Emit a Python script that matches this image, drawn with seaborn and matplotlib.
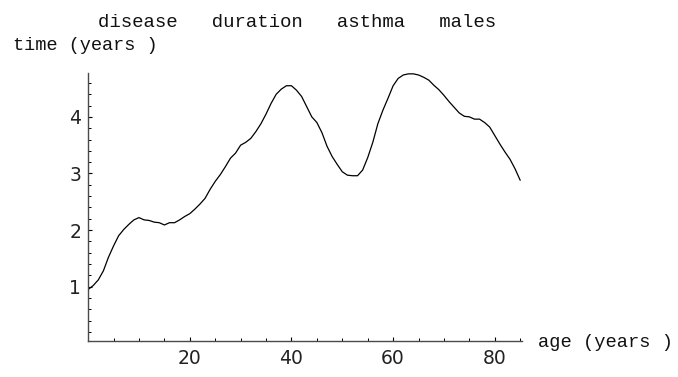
import matplotlib
matplotlib.use("Agg")
import matplotlib.pyplot as plt
from matplotlib.ticker import MultipleLocator, FixedLocator
import pandas as pd
import seaborn as sns

# Mean disease duration of asthma in males, by age
age = list(range(0, 86))
duration = [
    0.95, 1.02, 1.12, 1.28, 1.52, 1.72, 1.90, 2.01, 2.10, 2.18,
    2.22, 2.18, 2.17, 2.14, 2.13, 2.09, 2.13, 2.13, 2.18, 2.24,
    2.29, 2.37, 2.46, 2.56, 2.72, 2.86, 2.98, 3.12, 3.27, 3.36,
    3.50, 3.55, 3.62, 3.74, 3.88, 4.05, 4.24, 4.40, 4.49, 4.55,
    4.55, 4.47, 4.36, 4.18, 4.00, 3.90, 3.72, 3.48, 3.30, 3.16,
    3.03, 2.97, 2.96, 2.96, 3.06, 3.28, 3.55, 3.88, 4.12, 4.33,
    4.55, 4.68, 4.74, 4.76, 4.76, 4.74, 4.70, 4.65, 4.56, 4.48,
    4.38, 4.27, 4.17, 4.07, 4.01, 4.00, 3.96, 3.96, 3.90, 3.82,
    3.67, 3.52, 3.38, 3.25, 3.08, 2.88,
]
x_ticks = [20, 40, 60, 80]
y_ticks = [1, 2, 3, 4]
title_words = ["disease", "duration", "asthma", "males"]
x_label = "age (years )"
y_label = "time (years )"

df = pd.DataFrame({"age": age, "duration": duration})

sns.set_style("ticks")
plt.rcParams["font.family"] = ["DejaVu Sans"]
mono = ["Liberation Mono", "DejaVu Sans Mono"]
axis_grey = "#4a4a4a"

fig = plt.figure(figsize=(6.78, 3.77), dpi=100)
ax = fig.add_axes([0.130, 0.0955, 0.6395, 0.7101])

sns.lineplot(data=df, x="age", y="duration", color="black", lw=0.9, ax=ax)

ax.set_xlim(0, 85.3)
ax.set_ylim(0.04, 4.77)
ax.xaxis.set_major_locator(FixedLocator(x_ticks))
ax.yaxis.set_major_locator(FixedLocator(y_ticks))
ax.xaxis.set_minor_locator(MultipleLocator(5))
ax.yaxis.set_minor_locator(MultipleLocator(0.2))
ax.set_xticklabels([str(t) for t in x_ticks])
ax.set_yticklabels([str(t) for t in y_ticks])

ax.tick_params(which="major", direction="in", length=3.0, width=0.8,
               color="black", labelsize=13.5, labelcolor="#222222", pad=6)
ax.tick_params(which="minor", direction="in", length=2.0, width=0.7,
               color="black")
ax.tick_params(axis="y", which="major", pad=5)

for side in ("top", "right"):
    ax.spines[side].set_visible(False)
for side in ("left", "bottom"):
    ax.spines[side].set_color(axis_grey)
    ax.spines[side].set_linewidth(1.0)

ax.set_xlabel("")
ax.set_ylabel("")

# Title and axis labels in a typewriter face
fig.text(98.3 / 678, 1 - 26.7 / 377, "   ".join(title_words),
         family=mono, fontsize=13.7, color="#111111",
         ha="left", va="baseline")
fig.text(12.7 / 678, 1 - 50.0 / 377, y_label,
         family=mono, fontsize=13.4, color="#111111",
         ha="left", va="baseline")
fig.text(538.3 / 678, 1 - 347.3 / 377, x_label,
         family=mono, fontsize=13.5, color="#111111",
         ha="left", va="baseline")

fig.savefig("out.png", dpi=100)
